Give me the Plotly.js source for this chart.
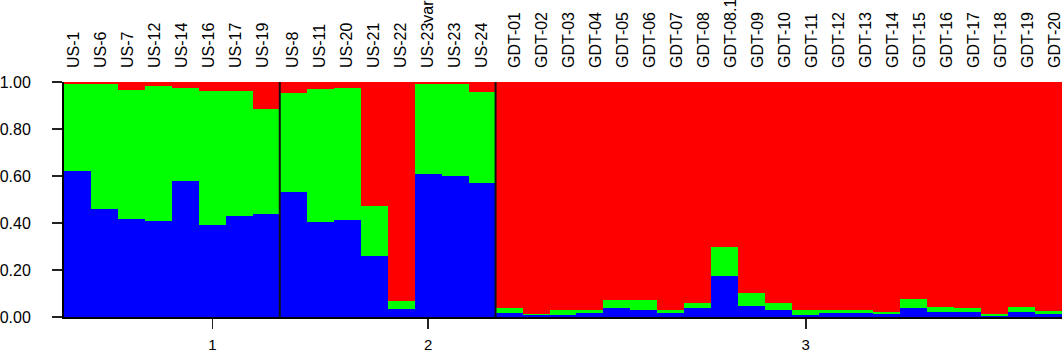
<!DOCTYPE html>
<html>
<head>
<meta charset="utf-8">
<script src="https://cdn.plot.ly/plotly-3.0.1.min.js"></script>
<style>html,body{margin:0;padding:0;background:#fff;}#chart{width:1062px;height:360px;}</style>
</head>
<body>
<div id="chart"></div>
<script>
// Sample names by group
const group1 = ["US-1","US-6","US-7","US-12","US-14","US-16","US-17","US-19"];
const group2 = ["US-8","US-11","US-20","US-21","US-22","US-23var","US-23","US-24"];
const group3 = ["GDT-01","GDT-02","GDT-03","GDT-04","GDT-05","GDT-06","GDT-07","GDT-08","GDT-08.1",
                "GDT-09","GDT-10","GDT-11","GDT-12","GDT-13","GDT-14","GDT-15","GDT-16","GDT-17",
                "GDT-18","GDT-19","GDT-20"];
const groupLabels = ["1","2","3"];
const groupTickSample = ["US-16","US-23var","GDT-11"];

// Membership proportions (cluster 1 = blue, cluster 2 = green, cluster 3 = red)
const blue = [0.62,0.46,0.415,0.41,0.58,0.39,0.43,0.437,
              0.53,0.403,0.413,0.259,0.035,0.61,0.60,0.57,
              0.018,0.008,0.009,0.016,0.038,0.031,0.016,0.038,0.173,
              0.045,0.031,0.009,0.016,0.016,0.012,0.038,0.021,0.021,
              0.006,0.021,0.012];
const green = [0.37,0.53,0.55,0.572,0.395,0.572,0.532,0.449,
               0.425,0.566,0.563,0.214,0.031,0.38,0.39,0.387,
               0.02,0.006,0.019,0.015,0.035,0.042,0.015,0.021,0.127,
               0.057,0.028,0.019,0.012,0.012,0.009,0.04,0.021,0.017,
               0.008,0.021,0.012];
const red = [0.01,0.01,0.035,0.018,0.025,0.038,0.038,0.114,
             0.045,0.031,0.024,0.527,0.934,0.01,0.01,0.043,
             0.962,0.986,0.972,0.969,0.927,0.927,0.969,0.941,0.70,
             0.898,0.941,0.972,0.972,0.972,0.979,0.922,0.958,0.962,
             0.986,0.958,0.976];

const groups = [group1, group2, group3];
const samples = groups.flat();
const idx = samples.map((_, i) => i);

// style: horizontal shift of the sample labels within each group (in bar units)
const labelShift = [-0.13, 0, 0.22];
const labelPos = [];
groups.forEach((g, gi) => g.forEach(() => labelPos.push(labelPos.length + labelShift[gi])));

const traces = [
  {type:'bar', x: idx, y: blue, marker:{color:'#0000FF', line:{width:0}}, hoverinfo:'skip'},
  {type:'bar', x: idx, y: green, marker:{color:'#00FF00', line:{width:0}}, hoverinfo:'skip'},
  {type:'bar', x: idx, y: red, marker:{color:'#FF0000', line:{width:0}}, hoverinfo:'skip'},
  {type:'scatter', x: labelPos, y: labelPos.map(() => null), xaxis:'x2', yaxis:'y', hoverinfo:'skip', showlegend:false}
];

// group separators
const shapes = [];
let acc = 0;
groups.slice(0, -1).forEach(g => {
  acc += g.length;
  shapes.push({type:'line', xref:'x', yref:'paper', x0: acc - 0.5, x1: acc - 0.5, y0: 0, y1: 1,
               line:{color:'#111', width:2}});
});

const n = samples.length;
const layout = {
  width: 1062, height: 360,
  margin: {l: 64, r: 0, t: 82, b: 43},
  paper_bgcolor: '#fff', plot_bgcolor: '#fff',
  barmode: 'stack', bargap: 0,
  showlegend: false,
  font: {family: 'Liberation Sans, Arial, sans-serif', color: '#000'},
  xaxis: {
    range: [-0.5, n - 0.5],
    tickmode: 'array',
    tickvals: groupTickSample.map(s => samples.indexOf(s)),
    ticktext: groupLabels,
    ticks: 'outside', ticklen: 10, tickwidth: 1.5, tickcolor: '#222',
    ticklabelstandoff: 3,
    tickfont: {size: 15, family: 'Liberation Sans, Arial, sans-serif'},
    showline: true, linecolor: '#000', linewidth: 2,
    showgrid: false, zeroline: false, fixedrange: true
  },
  xaxis2: {
    overlaying: 'x', anchor: 'y', side: 'top',
    range: [-0.5, n - 0.5],
    tickmode: 'array', tickvals: labelPos, ticktext: samples,
    tickangle: -90, ticks: '', ticklabelstandoff: 13,
    ticklabeloverflow: 'allow',
    tickfont: {size: 16, family: 'Liberation Sans, Arial, sans-serif'},
    showline: false, showgrid: false, zeroline: false, fixedrange: true
  },
  yaxis: {
    range: [0, 1],
    tickmode: 'array', tickvals: [0, 0.2, 0.4, 0.6, 0.8, 1.0],
    tickformat: '.2f',
    ticks: 'outside', ticklen: 10, tickwidth: 1.5, tickcolor: '#222',
    ticklabelstandoff: 18,
    tickfont: {size: 16, family: 'Liberation Sans, Arial, sans-serif'},
    showline: true, linecolor: '#000', linewidth: 2,
    showgrid: false, zeroline: false, fixedrange: true
  },
  shapes: shapes
};

Plotly.newPlot('chart', traces, layout, {staticPlot: true, displayModeBar: false});
</script>
</body>
</html>
